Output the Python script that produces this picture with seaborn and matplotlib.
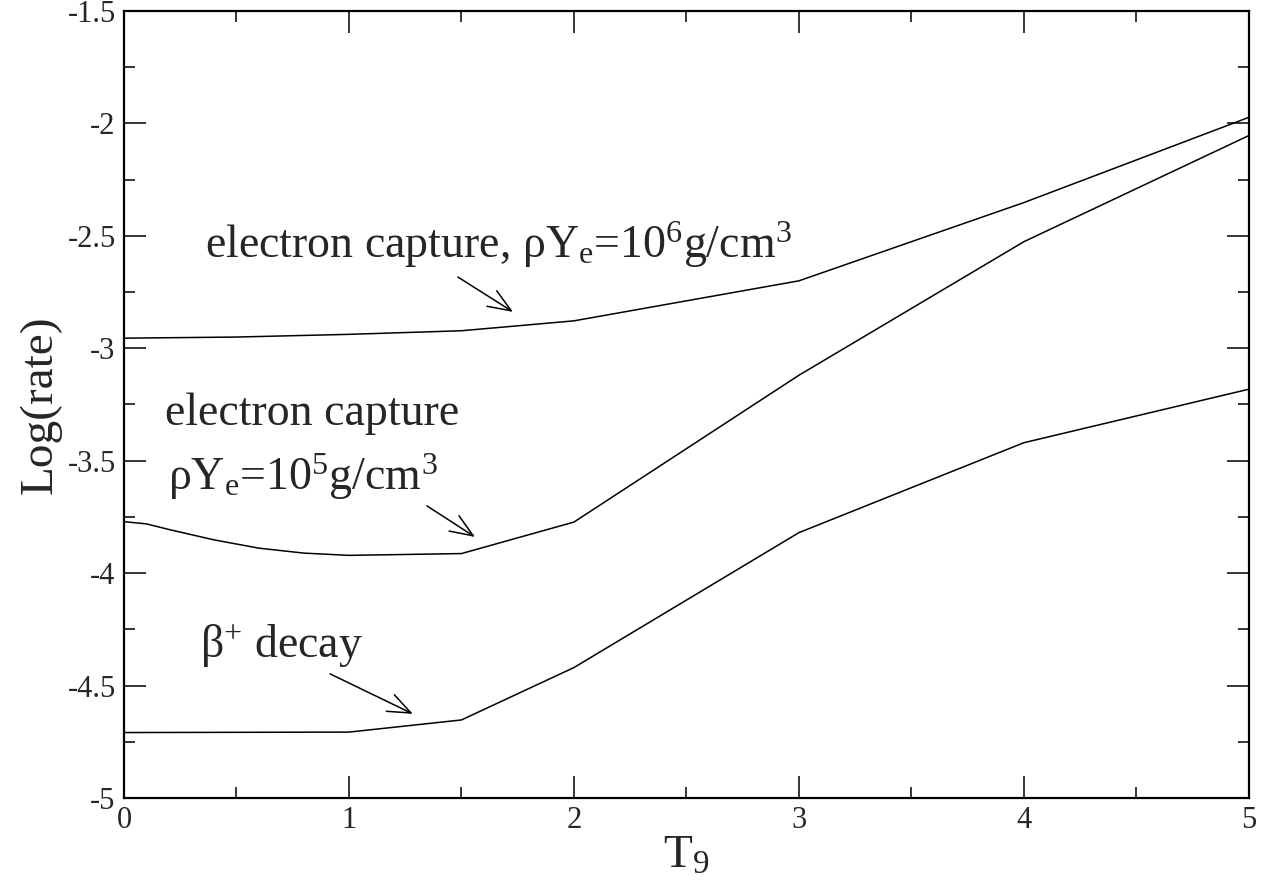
import numpy as np
import pandas as pd
import matplotlib
matplotlib.use("Agg")
import matplotlib.pyplot as plt
import seaborn as sns

# values (T9 vs log rate)
t_ec6 = [0.0, 0.5, 1.0, 1.5, 2.0, 3.0, 4.0, 5.0]
rate_ec6 = [-2.955, -2.950, -2.938, -2.922, -2.878, -2.700, -2.352, -1.973]

t_ec5 = [0.0, 0.1, 0.2, 0.4, 0.6, 0.8, 1.0, 1.5, 2.0, 3.0, 4.0, 5.0]
rate_ec5 = [-3.771, -3.781, -3.806, -3.852, -3.889, -3.911, -3.921, -3.913, -3.773, -3.120, -2.526, -2.054]

t_beta = [0.0, 1.0, 1.5, 2.0, 3.0, 4.0, 5.0]
rate_beta = [-4.709, -4.707, -4.653, -4.420, -3.820, -3.420, -3.182]

sns.set_style("ticks")
plt.rcParams['font.family'] = ['Liberation Serif', 'DejaVu Serif']
plt.rcParams['mathtext.fontset'] = 'custom'
plt.rcParams['mathtext.rm'] = 'Liberation Serif'
plt.rcParams['mathtext.it'] = 'Liberation Serif'

fig = plt.figure(figsize=(12.73, 8.96), dpi=100)
ax = fig.add_axes([0.0974, 0.1094, 0.8836, 0.8783])

for t, r in [(t_ec6, rate_ec6), (t_ec5, rate_ec5), (t_beta, rate_beta)]:
    sns.lineplot(x=t, y=r, ax=ax, color='black', linewidth=1.1, sort=False)

ax.set_xlim(0, 5)
ax.set_ylim(-5, -1.5)
ax.set_xticks(np.arange(0, 5.01, 1))
ax.set_xticks(np.arange(0, 5.01, 0.5), minor=True)
ax.set_yticks(np.arange(-5, -1.49, 0.5))
ax.set_yticks(np.arange(-5, -1.49, 0.25), minor=True)
ax.set_xticklabels(['0', '1', '2', '3', '4', '5'])
ax.set_yticklabels(['-5', '-4.5', '-4', '-3.5', '-3', '-2.5', '-2', '-1.5'])

ax.tick_params(which='both', direction='in', top=True, right=True, width=1.1, color='black')
ax.tick_params(which='major', length=16, labelsize=22, pad=6)
ax.tick_params(which='minor', length=8)
for sp in ax.spines.values():
    sp.set_linewidth(1.6)
    sp.set_color('black')

ax.set_xlabel('T$_\\mathrm{9}$', fontsize=34, labelpad=0)
ax.set_ylabel('Log(rate)', fontsize=34, labelpad=4)

fs = 33
ax.text(0.36, -2.598, 'electron capture, ρY$_\\mathrm{e}$=10$^\\mathrm{6}$g/cm$^\\mathrm{3}$', fontsize=fs)
ax.text(0.182, -3.341, 'electron capture', fontsize=fs)
ax.text(0.196, -3.63, 'ρY$_\\mathrm{e}$=10$^\\mathrm{5}$g/cm$^\\mathrm{3}$', fontsize=fs)
ax.text(0.338, -4.372, 'β$^\\mathrm{+}$ decay', fontsize=fs)

arrow = dict(arrowstyle='->,head_length=0.55,head_width=0.22', lw=1.1, color='black',
             shrinkA=0, shrinkB=0, mutation_scale=30)
ax.annotate('', xy=(1.729, -2.838), xytext=(1.484, -2.683), arrowprops=arrow)
ax.annotate('', xy=(1.56, -3.839), xytext=(1.347, -3.701), arrowprops=arrow)
ax.annotate('', xy=(1.284, -4.626), xytext=(0.916, -4.448), arrowprops=arrow)

fig.savefig('out.png', dpi=100)
